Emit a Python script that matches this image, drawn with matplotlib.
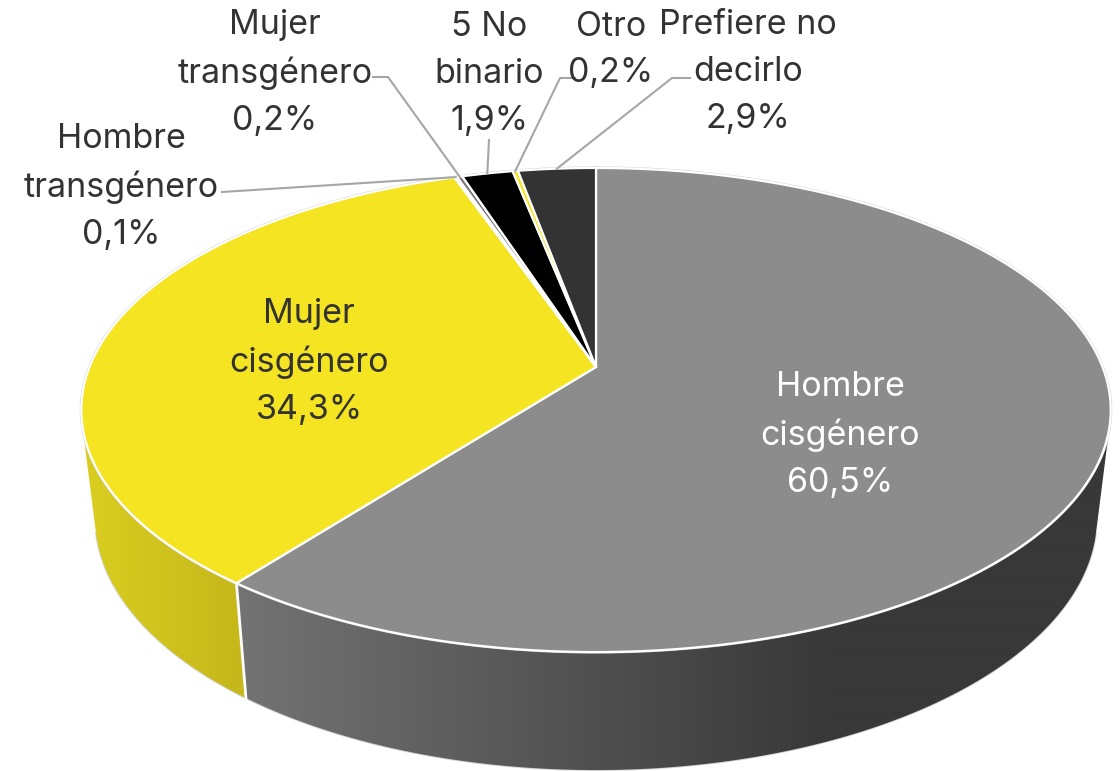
import numpy as np
import matplotlib

matplotlib.use("Agg")
import matplotlib.pyplot as plt
from matplotlib.colors import to_rgb
from matplotlib.patches import Polygon

categories = [
    "Hombre\ncisgénero",
    "Mujer\ncisgénero",
    "Hombre\ntransgénero",
    "Mujer\ntransgénero",
    "5 No\nbinario",
    "Otro",
    "Prefiere no\ndecirlo",
]
values = [60.5, 34.3, 0.1, 0.2, 1.9, 0.2, 2.9]
value_labels = ["60,5%", "34,3%", "0,1%", "0,2%", "1,9%", "0,2%", "2,9%"]
colors = ["#8c8c8c", "#f5e422", "#5a5a5a", "#7a7a7a", "#000000", "#f5e422", "#333333"]
text_colors = ["#ffffff", "#333333", "#333333", "#333333", "#333333", "#333333", "#333333"]

# label centres in pixels
label_pos = [(840, 435), (309, 362), (121, 187), (275, 73), (489, 74), (611, 50), (748, 72)]
# leader: start of line next to the label, knee (None = straight)
leaders = {
    2: ((222, 192), None),
    3: ((373, 77), (388, 77)),
    4: ((489, 140), None),
    5: ((575, 78), (560, 78)),
    6: ((690, 78), (672, 78)),
}

APEX_X, APEX_Y = 596.0, 367.0


def top_rim(theta):
    # theta clockwise from 12 o'clock, perspective ellipse of the top face
    u, v = np.sin(theta), np.cos(theta)
    w = 1 + 0.1777 * v
    return APEX_X + 506.5 * u / w, APEX_Y - 234.4 * v / w


def bottom_rim(theta):
    u, v = np.sin(theta), np.cos(theta)
    w = 1 + 0.178 * v
    return APEX_X + 493 * u / w, 472 - 245 * v / w


def tangent_angles(sign):
    # common tangent of both rims on the right (sign=1) or left (sign=-1)
    grid = np.linspace(0, 2 * np.pi, 1440)
    tx, ty = top_rim(grid)
    bx, by = bottom_rim(grid)
    i = np.argmax(sign * tx)
    j = np.argmax(sign * bx)
    for _ in range(20):
        dx, dy = bx[j] - tx[i], by[j] - ty[i]
        nx, ny = dy * sign * np.sign(dy), -dx * sign * np.sign(dy)
        i = np.argmax(tx * nx + ty * ny)
        j = np.argmax(bx * nx + by * ny)
    return grid[i], grid[j]


def draw_wall(th_top, th_bot, c0, c1, x0, x1):
    # polygon of the wall, filled with a left-to-right fade
    xt, yt = top_rim(th_top)
    xb, yb = bottom_rim(th_bot)
    poly = Polygon(
        np.c_[np.r_[xt, xb[::-1]], np.r_[yt, yb[::-1]]],
        closed=True, facecolor="none", edgecolor="none", transform=ax.transData,
    )
    ax.add_patch(poly)
    t = np.clip((np.arange(0, 1120) - x0) / (x1 - x0), 0, 1)[None, :, None]
    grad = (1 - t) * np.array(to_rgb(c0)) + t * np.array(to_rgb(c1))
    im = ax.imshow(grad, extent=[0, 1120, 771, 0], aspect="auto", zorder=2, interpolation="bilinear")
    im.set_clip_path(poly)
    ax.plot(xb, yb, color="#d4d4d4", lw=1.4, zorder=1)


plt.rcParams["font.family"] = ["Inter", "DejaVu Sans"]

fig = plt.figure(figsize=(11.2, 7.71), dpi=100)
ax = fig.add_axes([0, 0, 1, 1])
ax.axis("off")

edges = np.cumsum([0] + values) / sum(values) * 2 * np.pi

# walls
rt, rb = tangent_angles(1)
lt, lb = tangent_angles(-1)
draw_wall(np.linspace(rt, edges[1], 200), np.linspace(rb, edges[1], 200), "#747474", "#383838", 232, 830)
draw_wall(np.linspace(edges[1], lt, 100), np.linspace(edges[1], lb, 100), "#c6b71a", "#d9ce20", 243, 85)
ax.set_xlim(0, 1120)
ax.set_ylim(771, 0)

# seam between grey and yellow wall
sx0, sy0 = top_rim(edges[1])
sx1, sy1 = bottom_rim(edges[1])
ax.plot([sx0, sx1], [sy0, sy1], color="white", lw=2, zorder=3)

# thin grey outline round the top face
xr, yr = top_rim(np.linspace(0, 2 * np.pi, 400))
ax.plot(xr, yr, color="#cfcfcf", lw=2.2, zorder=3)

# top face
for i, (col, val) in enumerate(zip(colors, values)):
    th = np.linspace(edges[i], edges[i + 1], max(4, int(val * 8)))
    x, y = top_rim(th)
    ax.fill(
        np.r_[APEX_X, x], np.r_[APEX_Y, y],
        facecolor=col, edgecolor="white", lw=1.6, joinstyle="miter", zorder=4,
    )

# leader lines
for i, (start, knee) in leaders.items():
    ex, ey = top_rim((edges[i] + edges[i + 1]) / 2)
    xs = [start[0]] + ([knee[0]] if knee else []) + [ex]
    ys = [start[1]] + ([knee[1]] if knee else []) + [ey]
    ax.plot(xs, ys, color="#a6a6a6", lw=1.5, zorder=5)

# labels
for name, lab, pos, tc in zip(categories, value_labels, label_pos, text_colors):
    ax.text(
        pos[0], pos[1], name + "\n" + lab,
        ha="center", va="center", ma="center", color=tc,
        fontsize=24.5, linespacing=1.58, zorder=6,
    )

fig.savefig("out.png", dpi=100)
plt.close(fig)
